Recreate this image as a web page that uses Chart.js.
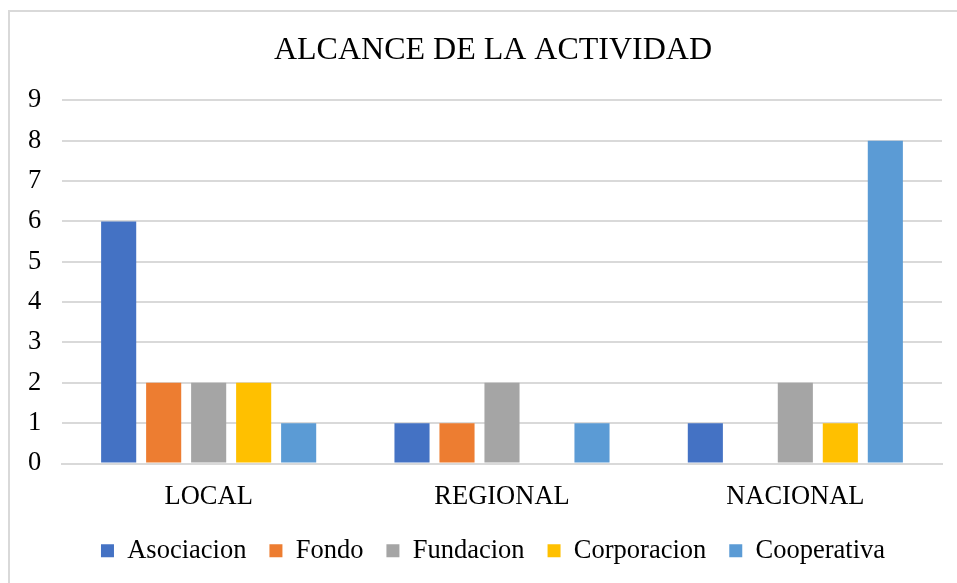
<!DOCTYPE html>
<html>
<head>
<meta charset="utf-8">
<script src="https://cdn.jsdelivr.net/npm/chart.js@4"></script>
<style>
  body { margin: 0; background: #fff; }
  #frame { position: absolute; left: 8px; top: 10px; width: 960px; height: 590px;
           border-left: 2px solid #D9D9D9; border-top: 2px solid #D9D9D9; }
  #wrap { position: absolute; left: 0; top: 0; width: 957px; height: 583px; }
</style>
</head>
<body>
<div id="frame"></div>
<div id="wrap"><canvas id="chart" width="957" height="583"></canvas></div>
<script>
// values
var categories = ['LOCAL', 'REGIONAL', 'NACIONAL'];
var seriesNames = ['Asociacion', 'Fondo', 'Fundacion', 'Corporacion', 'Cooperativa'];
var asociacion = [6, 1, 1];
var fondo = [2, 1, 0];
var fundacion = [2, 2, 2];
var corporacion = [2, 0, 1];
var cooperativa = [1, 1, 8];
var yTicks = [0, 1, 2, 3, 4, 5, 6, 7, 8, 9];

var colors = ['#4472C4', '#ED7D31', '#A5A5A5', '#FFC000', '#5B9BD5'];
var values = [asociacion, fondo, fundacion, corporacion, cooperativa];
var serif = "'Liberation Serif', 'Times New Roman', serif";

var datasets = seriesNames.map(function (name, i) {
    return {
        label: name,
        data: values[i],
        backgroundColor: colors[i],
        borderWidth: 0,
        categoryPercentage: 0.767,
        barPercentage: 0.78
    };
});

var ctx = document.getElementById('chart').getContext('2d');
var chart = new Chart(ctx, {
    type: 'bar',
    data: { labels: categories, datasets: datasets },
    options: {
        responsive: false,
        animation: false,
        layout: { padding: { top: 31, right: 15, bottom: 9, left: 44 } },
        plugins: {
            title: {
                display: true,
                text: 'ALCANCE DE LA ACTIVIDAD',
                color: '#000',
                font: { family: serif, size: 32, weight: 'normal' },
                padding: { top: 0, bottom: 31 }
            },
            legend: {
                position: 'bottom',
                labels: {
                    color: '#000',
                    font: { family: serif, size: 26.5 },
                    boxWidth: 13,
                    boxHeight: 13,
                    padding: 23
                }
            },
            tooltip: { enabled: false }
        },
        scales: {
            x: {
                afterFit: function (scale) { scale.height = 51; },
                grid: { display: false, drawTicks: false },
                border: { display: true, color: '#D9D9D9', width: 2 },
                ticks: { color: '#000', font: { family: serif, size: 26.5 }, padding: 18 }
            },
            y: {
                min: 0,
                max: yTicks[yTicks.length - 1],
                afterFit: function (scale) { scale.width = 18; },
                afterBuildTicks: function (scale) {
                    scale.ticks = yTicks.map(function (v) { return { value: v }; });
                },
                grid: { color: '#D9D9D9', lineWidth: 2, drawTicks: false },
                border: { display: false },
                ticks: { color: '#000', font: { family: serif, size: 26.5 }, mirror: true, padding: -34 }
            }
        }
    }
});
</script>
</body>
</html>
